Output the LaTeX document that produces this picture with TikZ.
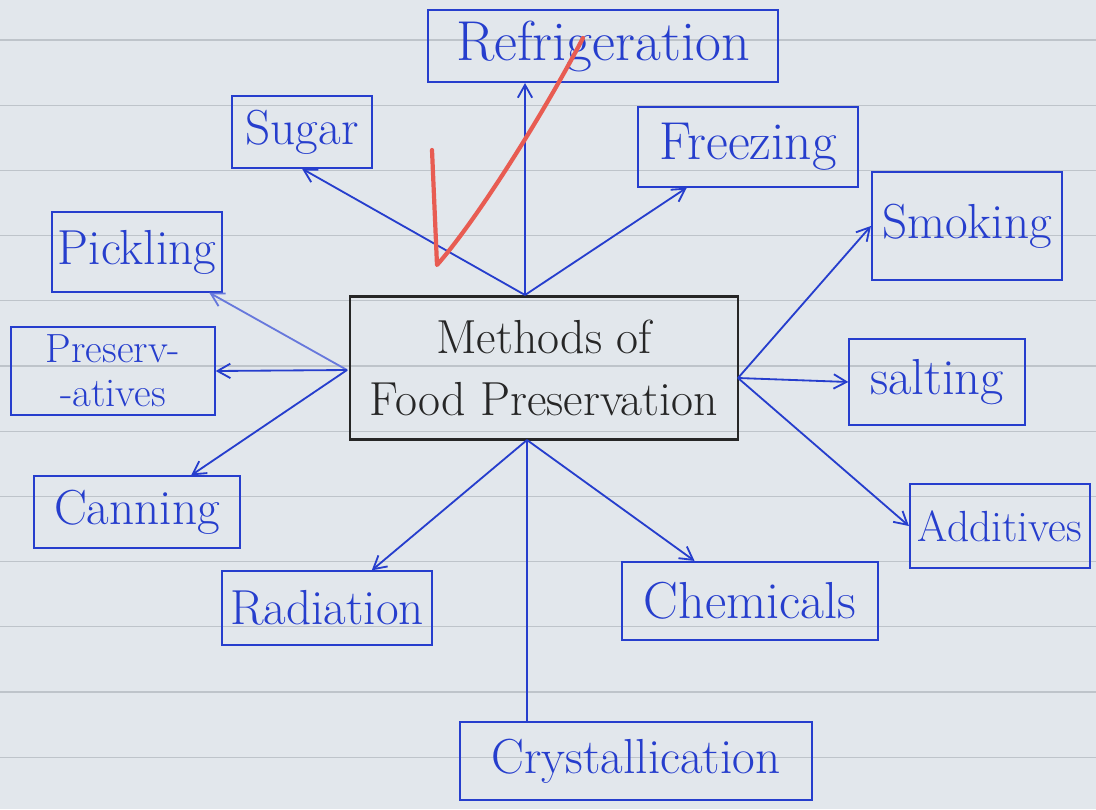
\documentclass[tikz,border=0pt]{standalone}
\usepackage{xcolor}
\usepackage{tikz}
\usetikzlibrary{arrows.meta,positioning}
\definecolor{tinta}{RGB}{38,62,205}
\definecolor{papel}{RGB}{226,231,236}
\definecolor{pauta}{RGB}{190,196,202}
\definecolor{vermelho}{RGB}{232,92,82}

\begin{document}
\begin{tikzpicture}[
	x=0.025cm, y=-0.025cm,
	>={Straight Barb[length=3.2mm,width=3.6mm]},
	caixa/.style={rectangle, draw=tinta, line width=1.5pt, text=tinta, align=center, inner sep=1pt, font=\fontsize{35}{36}\selectfont},
	centro/.style={rectangle, draw=black!85, line width=1.8pt, text=black!85, align=center, font=\fontsize{34}{44}\selectfont},
	seta/.style={->, line width=1.3pt, tinta},
	linha/.style={line width=1.3pt, tinta},
	pautado/.style={pauta, line width=0.8pt},
	visto/.style={vermelho, line width=3pt, line cap=round, line join=round},
]
% folha pautada
\fill[papel] (0,0) rectangle (1096,809);
\useasboundingbox (0,0) rectangle (1096,809);
\foreach \k in {0,...,11}
	\draw[pautado] (0,40+65.2*\k) -- (1096,40+65.2*\k);

\node[centro, minimum width=9.7cm, minimum height=3.58cm] (metodos) at (544,368) {Methods of\\Food Preservation};

\node[caixa, minimum width=8.75cm, minimum height=1.8cm, font=\fontsize{40}{40}\selectfont] (refrig) at (603,46) {Refrigeration};
\node[caixa, minimum width=3.5cm, minimum height=1.78cm] (acucar) at (302,132) {Sugar};
\node[caixa, minimum width=5.5cm, minimum height=1.98cm, font=\fontsize{38}{38}\selectfont] (congel) at (748,147) {Freezing};
\node[caixa, minimum width=4.25cm, minimum height=1.98cm] (picles) at (137,252) {Pickling};
\node[caixa, minimum width=5.08cm, minimum height=2.18cm, inner sep=0pt, font=\fontsize{29}{31}\selectfont] (conserv) at (113,371) {Preserv-\\-atives};
\node[caixa, minimum width=5.13cm, minimum height=1.78cm] (enlat) at (137,512) {Canning};
\node[caixa, minimum width=5.25cm, minimum height=1.83cm] (radiac) at (327,608) {Radiation};
\node[caixa, minimum width=8.8cm, minimum height=1.95cm] (cristal) at (636,761) {Crystallication};
\node[caixa, minimum width=6.4cm, minimum height=1.95cm, font=\fontsize{37}{37}\selectfont] (quimic) at (750,601) {Chemicals};
\node[caixa, minimum width=4.75cm, minimum height=2.7cm] (defum) at (967,226) {Smoking};
\node[caixa, minimum width=4.38cm, minimum height=2.13cm, font=\fontsize{36}{36}\selectfont] (salga) at (937,382) {salting};
\node[caixa, minimum width=4.5cm, minimum height=2.08cm, font=\fontsize{31}{31}\selectfont] (aditiv) at (1000,526) {Additives};

% pontos de saida das setas
\coordinate (hubN) at (525,295);
\coordinate (hubW) at (347,370);
\coordinate (hubE) at (738,378);
\coordinate (hubS) at (527,440);

\draw[seta] (hubN) -- (hubN |- refrig.south);
\draw[seta] (hubN) -- (acucar.south);
\draw[seta] (hubN) -- (congel);
\draw[seta, tinta!70] (hubW) -- (picles);
\draw[seta] (hubW) -- (conserv.east);
\draw[seta] (hubW) -- (enlat);
\draw[seta] (hubS) -- (radiac);
\draw[linha] (hubS) -- (hubS |- cristal.north);
\draw[seta] (hubS) -- (quimic);
\draw[seta] (hubE) -- (defum.west);
\draw[seta] (hubE) -- (salga.west);
\draw[seta] (hubE) -- (aditiv.west);

% visto do professor
\draw[visto] (432,150) -- (437,265) .. controls (475,222) and (540,120) .. (583,38);
\end{tikzpicture}
\end{document}
